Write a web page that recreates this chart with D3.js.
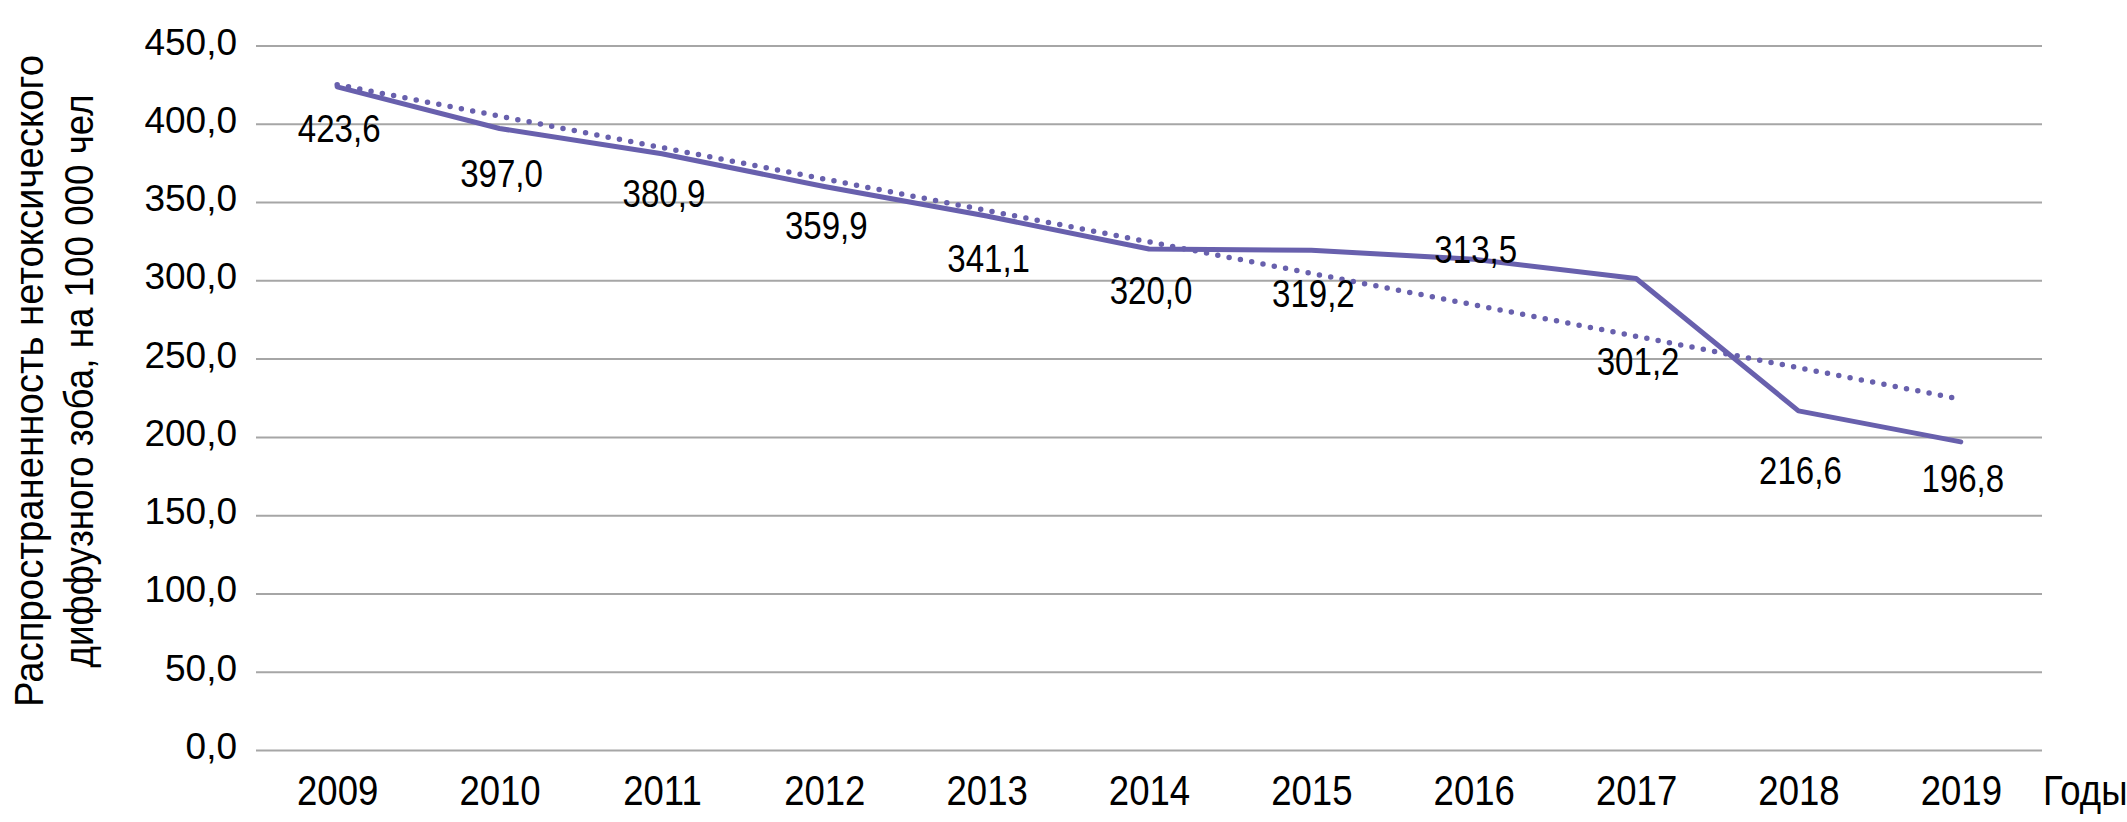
<!DOCTYPE html>
<html>
<head>
<meta charset="utf-8">
<script src="https://cdn.jsdelivr.net/npm/d3@7"></script>
<style>
  body { margin: 0; background: #fff; }
  text { font-family: "Liberation Sans", Arial, sans-serif; fill: #000; }
  .tick-y text { font-size: 37px; }
</style>
</head>
<body>
<div id="chart"></div>
<script>
// data
var years = [2009, 2010, 2011, 2012, 2013, 2014, 2015, 2016, 2017, 2018, 2019];
var prevalence = [423.6, 397.0, 380.9, 359.9, 341.1, 320.0, 319.2, 313.5, 301.2, 216.6, 196.8];
// dotted trend line, its two ends as seen on the picture
var trendYears = [2009, 2019];
var trendValues = [425.0, 224.1];
var yTicks = [0, 50, 100, 150, 200, 250, 300, 350, 400, 450];

// label offsets below each point (px), labels were moved by hand in the original
var labelDy = [41, 45, 40, 39, 42, 41, 43, -10, 83, 59, 36];

var svgWidth = 2127;
var svgHeight = 822;
var margin = { top: 45.5, right: 85, bottom: 72, left: 256 };
var width = svgWidth - margin.left - margin.right;
var height = svgHeight - margin.top - margin.bottom;

var lineColor = "#6860ad";
var gridColor = "#a6a6a6";
var squeeze = 0.87; // no narrow font installed, so squeeze Liberation Sans

var svg = d3.select("#chart")
  .append("svg")
  .attr("width", svgWidth)
  .attr("height", svgHeight);

var chartGroup = svg.append("g")
  .attr("transform", `translate(${margin.left}, ${margin.top})`);

var xScale = d3.scalePoint()
  .domain(years)
  .range([0, width])
  .padding(0.5);

var yScale = d3.scaleLinear()
  .domain([0, 450])
  .range([height, 0]);

var fmt = d => d3.format(".1f")(d).replace(".", ",");

// y axis with gridlines
var leftAxis = d3.axisLeft(yScale)
  .tickValues(yTicks)
  .tickFormat(fmt)
  .tickSizeInner(-width)
  .tickSizeOuter(0)
  .tickPadding(19);

var yAxis = chartGroup.append("g")
  .attr("class", "tick-y")
  .call(leftAxis);
yAxis.select(".domain").remove();
yAxis.selectAll("line")
  .attr("stroke", gridColor)
  .attr("stroke-width", 2);
yAxis.selectAll("text")
  .attr("dy", "0.23em");

// x axis
var bottomAxis = d3.axisBottom(xScale)
  .tickSize(0)
  .tickPadding(0);

var xAxis = chartGroup.append("g")
  .attr("transform", `translate(0, ${height})`)
  .call(bottomAxis);
xAxis.select(".domain").remove();
xAxis.selectAll("text")
  .attr("font-size", "42px")
  .attr("y", 0)
  .attr("dy", 0)
  .attr("transform", `translate(0, 55) scale(${squeeze}, 1)`);

chartGroup.append("text")
  .attr("transform", `translate(${width + 1}, ${height + 55}) scale(${squeeze}, 1)`)
  .attr("font-size", "42px")
  .text("Годы");

// trend line (dotted)
var trendLine = d3.line()
  .x((d, i) => xScale(trendYears[i]))
  .y(d => yScale(d));

chartGroup.append("path")
  .datum(trendValues)
  .attr("d", trendLine)
  .attr("fill", "none")
  .attr("stroke", lineColor)
  .attr("stroke-width", 5.5)
  .attr("stroke-linecap", "round")
  .attr("stroke-dasharray", "0 11.5");

// main line
var valueLine = d3.line()
  .x((d, i) => xScale(years[i]))
  .y(d => yScale(d));

chartGroup.append("path")
  .datum(prevalence)
  .attr("d", valueLine)
  .attr("fill", "none")
  .attr("stroke", lineColor)
  .attr("stroke-width", 5)
  .attr("stroke-linejoin", "round")
  .attr("stroke-linecap", "round");

// data labels
chartGroup.selectAll(".data-label")
  .data(prevalence)
  .enter()
  .append("text")
  .attr("class", "data-label")
  .attr("transform", (d, i) =>
    `translate(${xScale(years[i]) + 2}, ${yScale(d) + labelDy[i]}) scale(${squeeze}, 1)`)
  .attr("dy", "0.36em")
  .attr("text-anchor", "middle")
  .attr("font-size", "38px")
  .text(fmt);

// y axis title, two lines
var titleGroup = svg.append("g")
  .attr("transform", "translate(0, 381) rotate(-90)");

titleGroup.append("text")
  .attr("x", 0)
  .attr("y", 43)
  .attr("text-anchor", "middle")
  .attr("font-size", "40px")
  .attr("textLength", 652)
  .attr("lengthAdjust", "spacingAndGlyphs")
  .text("Распространенность нетоксического");

titleGroup.append("text")
  .attr("x", 0)
  .attr("y", 93)
  .attr("text-anchor", "middle")
  .attr("font-size", "40px")
  .attr("textLength", 573)
  .attr("lengthAdjust", "spacingAndGlyphs")
  .text("диффузного зоба, на 100 000 чел");
</script>
</body>
</html>
